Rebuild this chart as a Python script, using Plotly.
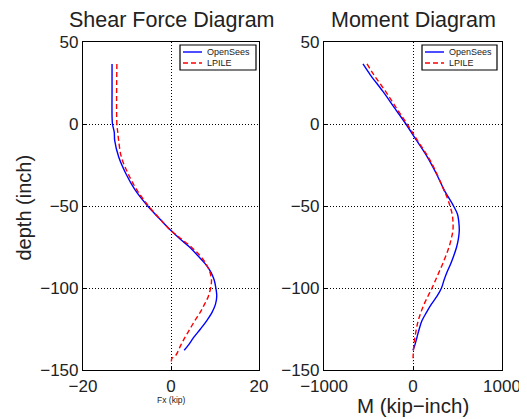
import plotly.graph_objects as go

# Shear force diagram
shear_os_depth = [36.6, 20, 5, 0, -5, -10, -20, -30, -40, -50, -55, -60, -65, -70, -75, -80, -85, -90,
                  -95, -100, -105, -110, -115, -120, -125, -130, -135, -138]
shear_os_fx = [-13.4, -13.4, -13.4, -13.3, -12.9, -12.8, -11.9, -10.3, -8.2, -5.3, -3.6, -1.8, 0.0, 2.0,
               4.2, 6.0, 7.7, 9.0, 9.8, 10.2, 10.4, 10.1, 9.3, 8.1, 6.7, 5.2, 3.9, 3.0]
shear_lp_depth = [36.6, 0, -5, -10, -20, -30, -40, -50, -60, -65, -70, -75, -80, -85, -90, -95, -100,
                  -105, -110, -115, -120, -125, -130, -135, -141, -143, -146]
shear_lp_fx = [-12.3, -12.3, -12.1, -11.9, -11.3, -9.8, -7.8, -5.1, -1.8, 0.0, 2.3, 4.6, 6.5, 7.9, 8.8,
               9.2, 9.0, 8.5, 7.6, 6.6, 5.4, 4.3, 3.2, 2.2, 1.1, 0.2, 0.1]

# Moment diagram
moment_os_depth = [36.6, 30, 20, 10, 0, -10, -20, -30, -40, -50, -55, -60, -65, -70, -75, -80, -85, -90,
                   -95, -100, -105, -110, -115, -120, -125, -130, -135, -138]
moment_os_m = [-562, -480, -340, -210, -80, 40, 160, 260, 348, 455, 500, 515, 520, 510, 490, 460, 425,
               385, 350, 320, 270, 205, 150, 100, 70, 45, 20, 0]
moment_lp_depth = [36.6, 30, 20, 10, 0, -10, -20, -30, -40, -45, -50, -55, -60, -65, -70, -75, -80, -85,
                   -90, -95, -100, -105, -110, -115, -120, -125, -130, -135, -140, -145]
moment_lp_m = [-517, -440, -310, -190, -67, 50, 170, 265, 345, 385, 416, 440, 450, 448, 430, 405, 372,
               335, 295, 255, 214, 168, 124, 88, 58, 38, 22, 10, 3, 0]

series_names = ["OpenSees", "LPILE"]
y_ticks = [50, 0, -50, -100, -150]
shear_ticks = [-20, 0, 20]
moment_ticks = [-1000, 0, 1000]

FONT = "Liberation Sans, Arial, sans-serif"
TXT = "#222"
BLUE = "rgb(0,0,255)"
RED = "rgb(255,0,0)"
DASH = "5px,3px"

# The page body has an 8px margin, so figure pixels = screen pixels - 8.
OFF = 8
W, H = 527 - OFF, 419 - OFF
# plot area in screen pixels: left 83, right 502, top 42, bottom 370
L, R, T, B = 83, 502, 42, 370
def px(x):
    return (x - L) / (R - L)
def py(y):
    return (B - y) / (B - T)

fig = go.Figure()
fig.add_trace(go.Scatter(x=shear_os_fx, y=shear_os_depth, mode="lines", name=series_names[0],
                         line=dict(color=BLUE, width=1.4, shape="spline"), xaxis="x", yaxis="y"))
fig.add_trace(go.Scatter(x=shear_lp_fx, y=shear_lp_depth, mode="lines", name=series_names[1],
                         line=dict(color=RED, width=1.4, dash=DASH, shape="spline"), xaxis="x", yaxis="y"))
fig.add_trace(go.Scatter(x=moment_os_m, y=moment_os_depth, mode="lines", name=series_names[0],
                         line=dict(color=BLUE, width=1.4, shape="spline"), xaxis="x2", yaxis="y2"))
fig.add_trace(go.Scatter(x=moment_lp_m, y=moment_lp_depth, mode="lines", name=series_names[1],
                         line=dict(color=RED, width=1.4, dash=DASH, shape="spline"), xaxis="x2", yaxis="y2"))

axis_common = dict(showline=True, mirror=True, linecolor="black", linewidth=1.2,
                   showgrid=True, gridcolor="black", griddash="1px,2px", gridwidth=1,
                   zeroline=False, ticks="inside", ticklen=3, tickcolor="black", automargin=False,
                   tickfont=dict(family=FONT, size=17, color=TXT))

shapes = []
annotations = []

# manual legends (one per panel)
for (bx0, bx1, sx0, sx1, tx) in [(180, 256, 183, 202, 205), (422, 497, 425, 444, 447)]:
    shapes.append(dict(type="rect", xref="paper", yref="paper", x0=px(bx0), x1=px(bx1), y0=py(70), y1=py(45),
                       line=dict(color="black", width=1.2), fillcolor="white", layer="above"))
    for row_y, color, dash, name in [(52, BLUE, "solid", series_names[0]), (63, RED, DASH, series_names[1])]:
        shapes.append(dict(type="line", xref="paper", yref="paper", x0=px(sx0), x1=px(sx1), y0=py(row_y), y1=py(row_y),
                           line=dict(color=color, width=1.4, dash=dash), layer="above"))
        annotations.append(dict(text=name, x=px(tx), y=py(row_y), xref="paper", yref="paper", showarrow=False,
                                xanchor="left", yanchor="middle", font=dict(family=FONT, size=9, color=TXT)))

annotations += [
    dict(text="Shear Force Diagram", x=px(171.5), y=py(20), xref="paper", yref="paper",
         showarrow=False, font=dict(family=FONT, size=21.5, color=TXT), xanchor="center", yanchor="middle",
         borderpad=0),
    dict(text="Moment Diagram", x=px(413), y=py(20), xref="paper", yref="paper",
         showarrow=False, font=dict(family=FONT, size=21.5, color=TXT), xanchor="center", yanchor="middle",
         borderpad=0),
    dict(text="depth (inch)", x=px(23), y=py(207.5), xref="paper", yref="paper", textangle=-90,
         showarrow=False, font=dict(family=FONT, size=20, color=TXT), xanchor="center", yanchor="middle"),
    dict(text="Fx (kip)", x=px(171), y=py(400), xref="paper", yref="paper",
         showarrow=False, font=dict(family=FONT, size=8.5, color=TXT), xanchor="center", yanchor="middle",
         borderpad=0),
    dict(text="M (kip\u2212inch)", x=px(413), y=py(405), xref="paper", yref="paper",
         showarrow=False, font=dict(family=FONT, size=20.5, color=TXT), xanchor="center", yanchor="middle",
         borderpad=0),
]

fig.update_layout(
    width=W, height=H,
    margin=dict(l=L - OFF, r=W - (R - OFF), t=T - OFF, b=H - (B - OFF), autoexpand=False),
    paper_bgcolor="white", plot_bgcolor="white",
    font=dict(family=FONT, color=TXT),
    showlegend=False,
    xaxis=dict(domain=[px(83), px(259)], range=[-20, 20], tickvals=shear_ticks, anchor="y", **axis_common),
    yaxis=dict(domain=[0, 1], range=[-150, 50], tickvals=y_ticks, anchor="x", **axis_common),
    xaxis2=dict(domain=[px(324), px(502)], range=[-1000, 1000], tickvals=moment_ticks, anchor="y2", **axis_common),
    yaxis2=dict(domain=[0, 1], range=[-150, 50], tickvals=y_ticks, anchor="x2", **axis_common),
    shapes=shapes,
    annotations=annotations,
)

fig.write_html("out.html")
